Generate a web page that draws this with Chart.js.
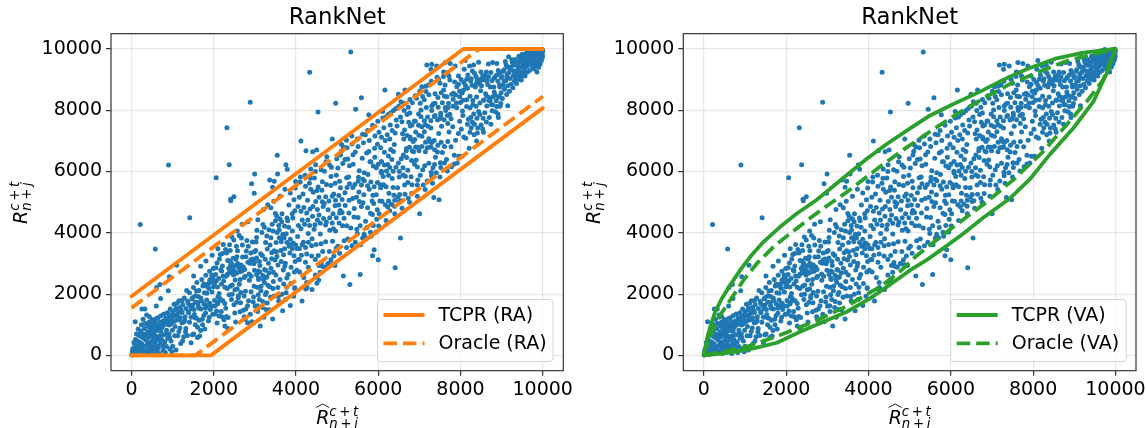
<!DOCTYPE html>
<html>
<head>
<meta charset="utf-8">
<style>
html,body{margin:0;padding:0;background:#fff;width:1146px;height:428px;overflow:hidden}
canvas{position:absolute;top:0}
</style>
<script src="https://cdn.jsdelivr.net/npm/chart.js@4/dist/chart.umd.min.js"></script>
</head>
<body>
<canvas id="left" width="573" height="428" style="left:0"></canvas>
<canvas id="right" width="573" height="428" style="left:573px"></canvas>
<script>
const chartTitle = "RankNet";
const tickValues = [0,2000,4000,6000,8000,10000];
const tcprRaUpper = [[0,1930],[8070,10000],[10000,10000]];
const tcprRaLower = [[0,0],[1930,0],[10000,8070]];
const oracleRaUpper = [[0,1550],[8450,10000],[10000,10000]];
const oracleRaLower = [[0,0],[1550,0],[10000,8450]];
const tcprVaUpper = [[0,0],[73,500],[154,935],[275,1424],[437,1859],[640,2293],[883,2783],[1125,3217],[1449,3706],[1854,4196],[2259,4630],[2745,5080],[3312,5706],[3960,6420],[4445,6900],[5012,7410],[5498,7830],[6065,8206],[6713,8609],[7280,9000],[7840,9337],[8570,9696],[9220,9880],[10000,10000]];
const tcprVaLower = [[0,0],[640,87],[1206,228],[1773,413],[2340,772],[2907,1098],[3474,1424],[4040,1859],[4607,2390],[5012,2780],[5400,3100],[5822,3500],[6308,3980],[6794,4500],[7443,5130],[7921,5750],[8408,6560],[8975,7413],[9465,8283],[9789,9207],[10000,10000]];
const oracleVaUpper = [[0,0],[194,772],[397,1315],[640,1804],[964,2456],[1287,3000],[1692,3543],[2097,3978],[2502,4400],[2907,4800],[3474,5330],[3879,5750],[4283,6163],[4931,6790],[5579,7380],[6226,7940],[6794,8391],[7443,8859],[8090,9228],[8820,9609],[9390,9804],[10000,10000]];
const oracleVaLower = [[0,0],[1045,283],[1854,663],[2664,1098],[3474,1609],[4283,2239],[4800,2780],[5174,3260],[6065,4196],[6875,5011],[7516,5728],[8245,6652],[8810,7522],[9300,8283],[9700,8989],[10000,10000]];
const scatterPoints = [
[5,10],[40,60],[20,140],[70,30],[100,100],[60,210],[130,40],[150,170],[110,260],[190,70],[210,220],[170,320],[240,130],[80,340],[30,220],[270,50],[290,270],[250,380],[330,150],[310,60],[360,320],[200,430],[140,470],[95,520],[60,420],[380,90],[420,240],[400,420],[450,60],[470,170],[350,500],[300,560],[240,610],[180,650],[120,700],[440,380],[510,290],[520,110],[560,200],[490,460],[540,540],[420,600],[360,660],[290,700],[220,790],[160,860],[89,1098],[252,1511],[325,1511],[366,1315],[240,1000],[310,880],[390,770],[470,680],[560,420],[600,320],[620,130],[680,60],[650,240],[700,380],[640,500],[600,620],[540,720],[470,830],[400,950],[330,1040],[280,1180],[430,1090],[520,900],[610,800],[690,640],[730,520],[770,170],[820,90],[760,310],[850,290],[810,440],[880,560],[780,670],[710,790],[650,930],[570,1040],[500,1170],[430,1270],[600,1200],[690,1080],[760,970],[850,820],[910,700],[960,470],[1000,300],[1081,174],[930,210],[980,120],
[431,722],[456,905],[507,1013],[523,641],[556,812],[577,1124],[613,953],[644,1232],[668,861],[683,1014],[712,1293],[737,907],[763,1126],[788,1347],[818,1008],[833,1216],[847,688],[874,1392],[893,1098],[912,1263],[921,587],[941,1514],[952,1033],[971,1189],[991,824],[1003,1428],[1021,1106],[1034,1672],[1056,942],[1063,1288],[1088,1536],[1107,1157],[1124,641],[1146,1389],[1153,1782],[1174,897],[1186,1226],[1203,1483],[1224,1068],[1246,1652],[1268,612],[1283,1876],[1294,1141],[1312,773],[1325,1527],[1358,652],[1366,1768],[1387,1394],[1408,2043],[1426,1632],[1447,1247],[1468,1846],[1482,671],[1505,2218],[1527,1338],[1548,1002],[1556,1945],[1577,1213],[1589,2380],[1606,917],[1618,1723],[1639,2118],[1658,631],[1679,808],[1687,1874],[1708,2476],[1727,1002],[1735,2262],[1756,1304],[1774,2043],[1798,1548],[1806,2618],[1827,1806],[1847,2322],[1866,1652],[1889,1248],[1896,2744],[1915,1498],[1934,2486],[1956,2068],[1974,1344],[1988,2834],
[2024,1612],[2046,2642],[2067,1452],[2079,3012],[2107,1738],[2127,1286],[2136,3142],[2169,2794],[2188,2328],[2207,3328],[2228,2592],[2247,1164],[2267,1694],[2286,3456],[2308,1266],[2328,2186],[2337,3098],[2341,880],[2364,2846],[2383,3612],[2402,2258],[2426,3004],[2447,1998],[2468,2782],[2487,3768],[2513,2146],[2534,3138],[2558,1732],[2577,3416],[2594,1884],[2617,3912],[2639,1428],[2658,2052],[2678,2742],[2696,3604],[2718,2888],[2738,1938],[2740,1261],[2763,2582],[2781,1514],[2806,3748],[2821,1065],[2846,1786],[2864,2448],[2888,1342],[2907,2074],[2927,1098],[2947,3146],[2967,1902],[2987,3386],
[3006,1604],[3027,3704],[3048,4082],[3066,1436],[3087,2516],[3107,1824],[3130,957],[3146,2108],[3178,1566],[3197,4272],[3216,1248],[3236,2804],[3256,1984],[3278,2546],[3298,1712],[3317,2286],[3346,1486],[3368,3604],[3388,4822],[3407,3156],[3431,1185],[3447,2408],[3466,3418],[3497,4632],[3516,3688],[3536,3224],[3557,2218],[3578,1776],[3607,4462],[3638,3836],[3656,1996],[3675,1457],[3696,3286],[3727,2912],[3746,1822],[3776,2526],[3796,4394],[3827,4912],[3862,1630],[3876,2348],[3908,4626],[3938,1926],[3968,2186],[3988,5672],
[4026,3492],[4057,3126],[4087,2724],[4106,5824],[4146,1772],[4178,3694],[4208,4276],[4236,2168],[4268,2217],[4296,3978],[4326,5618],[4357,6082],[4390,2152],[4418,5326],[4447,5792],[4476,6218],[4508,2356],[4538,5494],[4553,2457],[4588,2714],[4617,3028],[4647,3392],[4687,4956],[4718,4254],[4748,6482],[4786,3008],[4816,6216],[4847,5542],[4887,3726],[4917,5268],[4947,2936],[4976,3494],
[5017,6118],[5047,4318],[5076,4732],[5106,6886],[5136,6262],[5168,4476],[5196,4892],[5226,7024],[5258,6408],[5287,4648],[5330,9900],[5356,7158],[5386,6552],[5417,4796],[5450,8030],[5478,4116],[5507,4496],[5538,6026],[5568,3612],[5590,8410],[5626,5746],[5656,3952],[5688,7204],[5718,6606],[5748,5906],[5770,7850],[5798,6318],[5826,3886],[5858,4596],[5888,4956],[5916,6468],[5948,4026],[5976,4752],
[6017,7286],[6046,5568],[6076,6006],[6106,7958],[6136,7428],[6160,8660],[6188,7776],[6218,7202],[6246,6508],[6278,4718],[6308,7916],[6337,7342],[6367,6656],[6397,4868],[6427,8056],[6457,7484],[6490,8520],[6516,5022],[6550,8280],[6576,7626],[6608,5886],[6638,7352],[6650,8660],[6686,6752],[6718,6042],[6730,8100],[6768,7912],[6798,5832],[6827,8248],[6858,6644],[6887,7044],[6928,8388],[6958,6792],[6987,7188],
[7020,8230],[7040,8010],[7060,8770],[7096,5562],[7118,8342],[7147,6642],[7160,8610],[7180,9480],[7208,7476],[7220,8825],[7247,6792],[7280,9340],[7296,5862],[7300,8140],[7300,9500],[7336,8204],[7368,6232],[7380,8230],[7420,9445],[7457,8098],[7465,9010],[7500,8880],[7518,7906],[7558,8242],[7585,9100],[7625,8825],[7630,9555],[7670,8445],[7680,9230],[7710,8230],[7740,8990],[7750,9530],[7788,8524],[7830,8555],[7858,8920],[7870,9445],[7910,8770],[7950,9120],[7978,8618],[7998,8252],
[8016,9006],[8048,7976],[8075,8660],[8090,9340],[8115,9620],[8148,8124],[8178,9148],[8220,9445],[8248,8958],[8288,9284],[8320,9480],[8340,9205],[8378,9104],[8408,8978],[8440,9565],[8468,8858],[8498,9248],[8528,9002],[8558,8332],[8598,9142],[8638,8978],[8678,9512],[8718,8412],[8748,8192],[8780,9555],[8818,9042],[8848,8492],[8885,9530],[8928,8432],[8958,8762],[8988,8572],
[9010,9100],[9018,8382],[9030,8822],[9042,9272],[9060,9320],[9070,8682],[9090,9590],[9100,8962],[9110,9480],[9122,8512],[9135,9176],[9148,8802],[9170,9750],[9180,9230],[9190,8622],[9205,9036],[9220,9400],[9232,8846],[9248,9652],[9260,9560],[9272,8732],[9285,9128],[9300,9280],[9312,8962],[9330,9660],[9350,9470],[9362,8872],[9380,9160],[9400,9330],[9410,9012],[9420,9760],[9440,9590],[9460,9400],[9470,9098],[9480,9230],[9500,9830],[9510,9670],[9530,9500],[9540,9216],[9550,9330],[9570,9120],[9580,9760],[9600,9600],[9610,9430],[9630,9870],[9650,9700],[9660,9520],[9680,9300],[9700,9900],[9710,9760],[9720,9600],[9740,9430],[9750,9830],[9770,9670],[9780,9520],[9800,9900],[9810,9760],[9830,9610],[9840,9450],[9850,9960],[9860,9830],[9870,9700],[9880,9560],[9900,9930],[9910,9790],[9920,9650],[9930,9500],[9940,9980],[9950,9860],[9955,9730],[9960,9600],[9970,9930],[9975,9810],[9980,9680],[9985,9990],[9990,9880],[9995,9760],[9998,9950],[9370,9550],[9450,9690],[9530,9780],[9590,9850],[9660,9940],[9740,9980],[9820,9850],[9700,9510],[9790,9350],[9620,9240],[9540,9590],[9430,9430],[9340,9080],[9860,9250],[9900,9400],[9480,8990],[9560,9690],[9640,9820],[9690,9650],[9760,9780],[9840,9700],[9890,9860],[9720,9880],[9600,9510],[9510,9420],[9420,9260],[9290,9480],[9210,9320],[9150,9420],[9320,9220],[9610,9770],
[211,4272],[577,3468],[1415,4489],[2415,5043],[1097,2945],[919,2565],[691,2315],[610,2217],[894,2109],[707,1859],[602,1609],[1447,413],[1195,391],[1602,587],[2059,5799],[2375,6223],[2319,7431],[2886,8260],[4331,9239],[4964,8227],[4533,7943],[900,6213],[2489,5178],[2409,5093],[2983,5289],[2920,5603],[2993,5919],[3552,5919],[3358,5723],[3470,5681],[3431,5485],[3543,6530],[3754,6223],[3786,6072],[4119,6997],[4881,7062],[4241,6680],[4404,6648],[4501,6703],[5190,6390],[7005,4620],[7350,5150],[7480,5080],[6410,2860],[5150,2590],[5310,2310],[5560,2640],[5900,3450],[6000,3120],[5860,3250],[6540,3830]
];
const scatterUpperEdge = [
[1510,2590],[1680,2910],[1810,3080],[1960,3270],[2100,3480],[2230,3620],[2440,3860],[2570,4060],[2690,4280],[2830,4360],[3070,4430],[3210,4760],[3310,4920],[3460,5030],[3610,5190],[3730,5420],[3860,5300],[3980,5460],[4100,5660],[4220,5880],[4350,5780],[4470,6000],[4610,6060],[4730,6320],[4860,6140],[4990,6420],[5100,6660],[5240,6780],[5360,6900],[5490,7060],[5620,7220],[5740,7340],[5860,7510],[5990,7640],[6110,7750],[6240,7860],[6370,7990],[6500,8130],[6620,8230],[6770,8350],[6900,8470],[7010,8620],[7150,8780],[7290,8950],[7430,9080],[7590,9250],[7720,9120]
];
const scatterLowerEdge = [
[2270,960],[2530,1090],[2760,1180],[3060,1620],[3270,1500],[3570,1920],[3760,2040],[3970,2210],[4260,2380],[4470,2620],[4650,2900],[4850,3120],[5060,3330],[5230,3520],[5440,3690],[5620,3830],[5810,4020],[6010,4220],[6190,4400],[6400,4620],[6580,4800],[6760,5000],[6950,5190],[7140,5410],[7320,5620],[7500,5820],[7680,6020],[7850,6250],[8040,6500],[8210,6760],[8390,7000],[8560,7280],[8740,7540],[8920,7760],[9150,8150]
];
const scatterClumps = [
[2420,2700],[2500,2760],[2560,2690],[2450,2860],[2530,2930],[2610,2850],[2390,2790],[2480,2620],[2580,3000],[2660,2950],[2340,2660],[2410,2940],[2300,2580],[2640,2740],[1900,2460],[1980,2520],[2060,2430],[2010,2340],[2120,2510],[1880,2350],[1950,2620],[1840,2250],[1480,1640],[1550,1730],[1620,1620],[1700,1780],[1640,1540],[1520,1500],[1760,1680],[1820,1590],[1900,1700],[1940,1600],[2020,1790],[2090,1680],[2150,1860],[2220,1780],[1380,1420],[1300,1260],[1230,1400],[1160,1180],[1100,1320],[1040,1120],[980,1320],[920,990],[860,1140],[800,1040],[3040,2640],[3120,2720],[3190,2610],[3260,2780],[3340,2690],[3090,2480],[3210,2480],[3290,2560],[2990,2780],[3390,2840],[3450,2710],[2830,3040],[2900,3120],[2970,2990],[3040,3180],[3110,3060],[2780,3220],[3180,3260],[3250,3140],[3640,3710],[3710,3830],[3780,3680],[3860,3790],[3930,3670],[3590,3840],[3680,3950],[3760,3970],[3830,3560],[3910,3480],[3990,3600],[4080,3480],[4150,3610],[4230,3520],[4300,3690],[4380,3580],[3420,4280],[3500,4390],[3580,4240],[3650,4360],[3720,4220],[3340,4100],[3440,4060],[3530,4540],[4520,4420],[4590,4310],[4670,4470],[4740,4350],[4820,4490],[4460,4260],[4560,4580],[4900,4620],[4980,4490],[5060,4650],[4400,4540],[4340,4780],[4260,4650],[4190,4830],[4120,4700],[4050,4860],[3970,4720],[4480,5020],[4560,5160],[4640,5010],[4720,5180],[4800,5040],[4880,5190],[4960,5060],[5040,5220],[5120,5090],[5430,5580],[5510,5680],[5590,5560],[5660,5700],[5740,5540],[5820,5660],[5900,5500],[5980,5640],[6060,5470],[5380,5480],[5300,5600],[5240,5480],[5780,5420],[5870,5230],[5530,5330],[5650,5240],[6200,6020],[6280,6130],[6360,6010],[6430,6140],[6510,6000],[6600,6120],[6250,5880],[6340,5770],[6150,6210],[6080,6330],[6000,6240],[6170,4920],[6250,5040],[6320,4930],[6400,5060],[6480,5170],[6560,5050],[6090,5030],[6650,5260],[6730,5130],[6810,5280],[6680,6680],[6760,6790],[6830,6670],[6910,6800],[6990,6680],[7060,6820],[7150,6960],[7230,7070],[7300,6950],[7190,6780],[7280,6800],[7370,6710],[7450,6860],[7530,6960],[7610,6820],[7690,6980],[7120,7660],[7200,7780],[7280,7660],[7360,7800],[7440,7680],[7520,7820],[7600,7690],[7680,7830],[7770,7720],[6820,7520],[6900,7640],[6980,7510],[7060,7460],[6620,7060],[6700,7180],[6780,7060],[8250,7760],[8320,7880],[8400,7740],[8470,7860],[8550,7740],[8630,7620],[8170,7540],[8260,7430],[8340,7540],[8420,7420],[8500,7520],[8570,8330],[8640,8460],[8720,8320],[8790,8440],[8870,8310],[8950,8450],[8610,8980],[8680,9090],[8760,8960],[8830,9080],[8910,8950],[8990,9070],[9060,8950],[9130,9060],[8540,9120],[8470,9000],[8390,8880],[8150,8340],[8230,8460],[8300,8320],[7980,8440],[8060,8330],[7820,8130],[7900,8240],[7610,8460],[7530,8570],[7450,8420],[7380,8540]
];
const scatterFill = [
[1230,1790],[1050,640],[1490,1890],[1320,880],[1760,2330],[1180,1560],[1640,1150],[1870,1120],[1410,1080],[1950,2410],[1110,1700],[1580,2100],[1830,2030],[1270,1090],[1690,1510],[1380,1690],[1930,1620],[1540,1240],[1720,1180],[1150,780],[1460,1520],[1800,1380],[1990,2240],[1620,1920],[1340,2120],[1880,2180],[1070,1480],[1510,700],[1780,860],[1240,470],
[2090,2230],[2740,2540],[2310,3340],[2650,1720],[2180,1430],[2900,3340],[2450,2300],[2820,1620],[2050,2860],[2560,3220],[2370,1980],[2980,2260],[2210,2920],[2700,3210],[2490,1650],[2860,2660],[2130,2020],[2620,2320],[2290,1540],[2940,3700],[2400,3420],[2770,2090],[2030,1350],[2520,2460],[2670,3830],[2240,2430],[2880,3010],[2350,1240],[2600,1950],[2960,1740],[2160,3290],[2430,1820],[2790,3410],[2080,1060],[2550,3560],[2330,2640],[2720,1470],[2470,3170],[2910,2580],[2190,2750],[2640,2480],[2380,3080],[2840,3560],[2100,1910],[2510,1380],[2750,2800],[2270,2220],[2990,3050],[2570,2170],[2200,1260],
[3140,3320],[3720,3480],[3280,2050],[3910,4060],[3060,2220],[3560,2950],[3390,3840],[3810,2640],[3170,4010],[3640,3060],[3470,1940],[3950,3250],[3020,3420],[3330,3010],[3780,4480],[3230,2380],[3590,4090],[3880,2880],[3120,2930],[3510,2620],[3700,2330],[3410,3350],[3960,2720],[3260,3680],[3660,4620],[3080,1980],[3490,3110],[3850,3340],[3190,1760],[3740,3010],[3360,2240],[3610,2480],[3920,4480],[3040,3850],[3540,4010],[3300,3470],[3820,4180],[3150,2260],[3690,2790],[3440,2180],[3980,3060],[3230,4180],[3770,2220],[3520,3380],[3080,2750],[3880,3620],[3380,1900],[3630,3420],[3950,5080],[3290,3900],
[4130,3270],[4720,3710],[4280,5060],[4910,4130],[4060,4240],[4560,2930],[4390,3810],[4810,3390],[4170,5270],[4640,5670],[4470,3130],[4950,5620],[4020,2780],[4330,4240],[4780,4750],[4230,3040],[4590,3960],[4880,2960],[4120,4130],[4510,5380],[4700,2880],[4410,4860],[4960,4060],[4260,3310],[4660,4860],[4080,5160],[4490,3620],[4850,5840],[4190,2540],[4740,5580],[4360,5420],[4610,3640],[4920,3240],[4040,3880],[4540,3260],[4300,2880],[4820,4080],[4150,4420],[4690,6010],[4440,4120],[4980,5880],[4230,5520],[4770,2980],[4520,4760],[4080,3120],[4880,4320],[4380,3240],[4630,5390],[4950,4880],[4290,4420],
[5130,4230],[5720,4170],[5280,5820],[5910,6760],[5060,5680],[5560,4230],[5390,6240],[5810,4640],[5170,3740],[5640,6940],[5470,5160],[5950,5240],[5020,3560],[5330,4160],[5780,7010],[5230,5800],[5590,4860],[5880,6180],[5120,4660],[5510,6820],[5700,3840],[5410,4520],[5960,4440],[5260,3800],[5660,5960],[5080,6540],[5490,3980],[5850,5040],[5190,5310],[5740,4820],[5360,3580],[5610,6430],[5920,7160],[5040,4910],[5540,5020],[5300,6190],[5820,6320],[5150,6800],[5690,4380],[5440,6640],[5980,6890],[5230,4230],[5770,6650],[5520,5810],[5080,5470],[5880,4240],[5380,5120],[5630,4980],[5950,6120],[5290,5060],
[6130,5570],[6720,5640],[6280,7060],[6910,7290],[6060,6780],[6560,6420],[6390,6880],[6810,6360],[6170,7010],[6640,5560],[6470,5470],[6950,6150],[6020,4620],[6330,6390],[6780,7490],[6230,4850],[6590,7230],[6880,7650],[6120,5840],[6510,5820],[6700,7860],[6410,7260],[6960,5720],[6260,5290],[6660,5850],[6080,7120],[6490,6280],[6850,6980],[6190,5500],[6740,7610],[6360,5480],[6610,6540],[6920,6380],[6040,5040],[6540,7780],[6300,6720],[6820,5570],[6150,6630],[6690,6460],[6440,7680],[6980,7880],[6230,6230],[6770,7130],[6520,5250],[6080,5950],[6880,6240],[6380,5230],[6630,7990],[6950,5560],[6290,7520],
[7130,6190],[7720,7290],[7280,7420],[7910,8080],[7060,7150],[7560,6620],[7390,6470],[7810,7460],[7170,8090],[7640,7990],[7470,7240],[7950,7240],[7020,5880],[7330,6120],[7780,6160],[7230,8510],[7590,8660],[7880,7020],[7120,7300],[7510,6290],[7700,8090],[7410,5960],[7960,6500],[7260,6980],[7660,6390],[7080,6060],[7490,7720],[7850,6530],[7190,5690],[7740,7870],[7360,7010],[7610,6280],[7920,6280],[7040,7790],[7540,7480],[7300,7990],[7820,8360],[7150,7530],[7690,7570],[7440,6640],[7980,7640],[7230,6270],[7770,6810],[7520,6130],[7080,8450],[7880,8500],[7380,7830],[7630,8090],[7950,8850],[7290,5980],
[8130,7090],[8720,8760],[8280,8820],[8910,7880],[8060,7830],[8560,9020],[8390,8430],[8810,8760],[8170,8720],[8640,8140],[8470,8240],[8950,8820],[8020,7380],[8330,7200],[8780,8180],[8230,8080],[8590,7920],[8880,9150],[8120,8810],[8510,8800],[8700,7760],[8410,7260],[8960,8130],[8260,9030],[8660,8840],[8080,7130],[8490,8640],[8850,7950],[8190,7710],[8740,9230],[8360,8760],[8610,8540],[8920,9300],[8040,8560],[8540,7390],[8300,8180],[8820,8600],[8150,9010],[8690,8320],[8440,7960],[8980,8220],[8230,7280],[8770,7980],[8520,8990],[8080,8910],[8880,8120],[8380,8130],[8630,9250],[8950,9220],[8290,7610]
];

const ORANGE = "#ff7f0e", GREEN = "#2ca02c", BLUE = "#1f77b4", GRID = "rgba(176,176,176,0.3)", SPINE = "#333333";
const FONT = "'DejaVu Sans'";

const toXY = pairs => pairs.map(p => ({x:p[0], y:p[1]}));

function mathText(ctx, parts, x, y, size) {
  let cx = x;
  for (const p of parts) {
    ctx.font = (p[1] ? "italic " : "") + size + "px " + FONT;
    ctx.fillText(p[0], cx, y);
    cx += ctx.measureText(p[0]).width;
  }
  return cx;
}
function rankLabel(ctx, subLetter, withHat) {
  ctx.fillStyle = "#000";
  ctx.textAlign = "left";
  ctx.textBaseline = "alphabetic";
  const end = mathText(ctx, [["R",1]], -21, 6.5, 19);
  mathText(ctx, [["c",1],["\u2009+\u2009",0],["t",1]], end, -1.5, 13.3);
  mathText(ctx, [["n",1],["\u2009+\u2009",0],[subLetter,1]], end, 10.5, 13.3);
  if (withHat) {
    ctx.strokeStyle = "#000"; ctx.lineWidth = 0.9;
    ctx.beginPath(); ctx.moveTo(-21,-9.5); ctx.lineTo(-14.5,-13); ctx.lineTo(-8,-9.5); ctx.stroke();
  }
}
const framePlugin = {
  id:"frame",
  afterLayout(chart) {
    if (chart.titleBlock) {
      chart.titleBlock.left = chart.chartArea.left;
      chart.titleBlock.right = chart.chartArea.right;
    }
  },
  afterDraw(chart, args, opts) {
    const a = chart.chartArea, ctx = chart.ctx;
    ctx.save();
    ctx.strokeStyle = SPINE; ctx.lineWidth = 1.2;
    ctx.strokeRect(a.left, a.top, a.right-a.left, a.bottom-a.top);
    const L = opts.legendLeft, T = 299.5, W = 175.5, H = 62;
    ctx.beginPath(); ctx.roundRect(L, T, W, H, 3.5);
    ctx.fillStyle = "rgba(255,255,255,0.8)"; ctx.fill();
    ctx.strokeStyle = "#d4d4d4"; ctx.lineWidth = 1; ctx.stroke();
    const sets = chart.data.datasets.filter(d => d.showLine && d.inLegend);
    sets.forEach((d,i) => {
      const y = i ? 343.3 : 315;
      ctx.strokeStyle = d.borderColor; ctx.lineWidth = d.borderWidth;
      ctx.setLineDash(d.borderDash || []);
      ctx.beginPath(); ctx.moveTo(L+6, y); ctx.lineTo(L+47, y); ctx.stroke();
      ctx.setLineDash([]);
      ctx.fillStyle = "#000"; ctx.font = "19px " + FONT;
      ctx.textAlign = "left"; ctx.textBaseline = "middle";
      ctx.fillText(d.label, L+61, y+1);
    });
    ctx.save(); ctx.translate((a.left+a.right)/2, 417); rankLabel(ctx, "i", true); ctx.restore();
    ctx.save(); ctx.translate(20.5, 203); ctx.rotate(-Math.PI/2); rankLabel(ctx, "j", false); ctx.restore();
    ctx.restore();
  }
};

function makeChart(id, color, tag, upT, loT, upO, loO, left, padRight, legendLeft) {
  const dash = [13.5,6];
  const line = (label, pts, dashed, inLegend) => ({
    type:"scatter", label, data:toXY(pts), showLine:true, inLegend, borderColor:color, backgroundColor:color,
    borderWidth:3.8, borderDash:dashed?dash:[], borderCapStyle:dashed?"butt":"round", borderJoinStyle:"round",
    pointRadius:0, pointHoverRadius:0, tension:0, order:1
  });
  const allPoints = scatterPoints.concat(scatterUpperEdge, scatterLowerEdge, scatterClumps, scatterFill);
  new Chart(document.getElementById(id), {
    type:"scatter",
    data:{datasets:[
      line("TCPR ("+tag+")", upT, false, true),
      line("Oracle ("+tag+")", upO, true, true),
      line("TCPR ("+tag+") lower", loT, false, false),
      line("Oracle ("+tag+") lower", loO, true, false),
      {label:"Calibration", data:toXY(allPoints), backgroundColor:BLUE, borderColor:BLUE, borderWidth:0, pointRadius:2.5, pointHoverRadius:2.5, order:5}
    ]},
    options:{
      responsive:false, animation:false, devicePixelRatio:1,
      layout:{padding:{left:0,right:padRight,top:0,bottom:0}},
      plugins:{
        legend:{display:false}, tooltip:{enabled:false},
        title:{display:true, text:chartTitle, color:"#000", font:{family:FONT,size:22.8,weight:"normal"}, padding:{top:4,bottom:2.3}},
        frame:{legendLeft}
      },
      scales:{
        x:{type:"linear",min:-500,max:10500,
          afterBuildTicks:s=>{s.ticks=tickValues.map(v=>({value:v}));},
          afterFit:s=>{s.height=57.3;s.paddingLeft=0;s.paddingRight=0;},
          grid:{color:GRID,lineWidth:1.2,tickLength:5,tickColor:SPINE,drawTicks:true},
          border:{display:false},
          ticks:{color:"#000",font:{family:FONT,size:19},padding:3,maxRotation:0,autoSkip:false,callback:v=>String(v)}},
        y:{type:"linear",min:-500,max:10500,
          afterBuildTicks:s=>{s.ticks=tickValues.map(v=>({value:v}));},
          afterFit:s=>{s.width=left;s.paddingTop=0;s.paddingBottom=0;},
          grid:{color:GRID,lineWidth:1.2,tickLength:5,tickColor:SPINE,drawTicks:true},
          border:{display:false},
          ticks:{color:"#000",font:{family:FONT,size:19},padding:4,autoSkip:false,callback:v=>String(v)}}
      }
    },
    plugins:[framePlugin]
  });
}
makeChart("left", ORANGE, "RA", tcprRaUpper, tcprRaLower, oracleRaUpper, oracleRaLower, 111, 9.7, 377.5);
makeChart("right", GREEN, "VA", tcprVaUpper, tcprVaLower, oracleVaUpper, oracleVaLower, 110.3, 10, 377.7);
</script>
</body>
</html>
